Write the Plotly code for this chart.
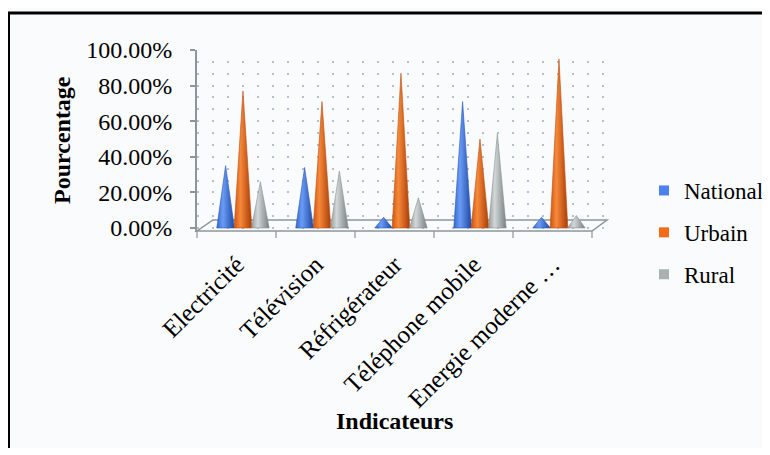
import plotly.graph_objects as go

categories = ["Electricité", "Télévision", "Réfrigérateur", "Téléphone mobile", "Energie moderne …"]
series_names = ["National", "Urbain", "Rural"]
national = [35, 34, 6, 71, 6]
urbain = [77, 71, 87, 50, 95]
rural = [26, 32, 17, 53, 7]
y_tick_values = [0, 20, 40, 60, 80, 100]
y_tick_labels = ["0.00%", "20.00%", "40.00%", "60.00%", "80.00%", "100.00%"]

values = [national, urbain, rural]

legend_colors = ["#4a80f0", "#f06a1a", "#a9b0b0"]
gradients = [
    [[0, "#3566cc"], [0.35, "#6a9cf6"], [1, "#1d47a3"]],
    [[0, "#cc5512"], [0.35, "#f7893a"], [1, "#a83c06"]],
    [[0, "#959b9b"], [0.35, "#d3d7d7"], [1, "#778080"]],
]
edge_colors = ["#2a58b8", "#c04c0c", "#8a9292"]

OFF = 8  # page body margin
W, H = 770 - OFF, 440
L, R, T, B = 197, 607, 50, 232  # plot area in reference pixels
def px(x):
    return (x - L) / (R - L)
def py(y):
    return (B - y) / (B - T)

FONT = "Liberation Serif"

fig = go.Figure()

offsets = [-0.22, 0.0, 0.22]
hw = 0.112
for s, (name, vals) in enumerate(zip(series_names, values)):
    for i, v in enumerate(vals):
        c = i + offsets[s]
        fig.add_trace(go.Scatter(
            x=[c - hw, c, c + hw, c - hw],
            y=[0, v, 0, 0],
            mode="lines",
            fill="toself",
            fillgradient=dict(type="horizontal", colorscale=gradients[s]),
            line=dict(width=0.6, color=edge_colors[s]),
            showlegend=False,
            hoverinfo="skip",
            legendgroup=name,
        ))

for s, name in enumerate(series_names):
    fig.add_trace(go.Scatter(
        x=[None], y=[None], mode="markers", name=name,
        marker=dict(symbol="square", size=10, color=legend_colors[s]),
        legendgroup=name,
    ))

x_lo = -0.582
x_hi = x_lo + (R - L) / 79.0
y_lo = -(B - 228) / 1.78

shapes = []
# border
shapes.append(dict(type="rect", xref="paper", yref="paper",
                   x0=px(8.5), x1=px(800), y0=py(500), y1=py(13),
                   line=dict(color="black", width=3), fillcolor="rgba(0,0,0,0)", layer="below"))
# floor
shapes.append(dict(type="path", xref="paper", yref="paper",
                   path=f"M {px(197)},{py(231)} L {px(592)},{py(231)} L {px(607)},{py(220)} L {px(213)},{py(220)} Z",
                   line=dict(color="#8c9696", width=1.5), fillcolor="rgba(250,251,252,1)", layer="below"))
# front edge ticks
for k in range(6):
    xp = 197 + k * (592 - 197) / 5
    shapes.append(dict(type="line", xref="paper", yref="paper",
                       x0=px(xp), x1=px(xp), y0=py(231), y1=py(238),
                       line=dict(color="#8c9696", width=1.2)))

fig.update_layout(
    width=W, height=H,
    margin=dict(l=L - OFF, r=W - (R - OFF), t=T - OFF, b=H - (B - OFF), pad=0, autoexpand=False),
    paper_bgcolor="#fafbfc",
    plot_bgcolor="rgba(255,255,255,0)",
    font=dict(family=FONT, color="black", size=24),
    showlegend=True,
    legend=dict(x=px(644), y=py(169), xanchor="left", yanchor="top",
                font=dict(family=FONT, size=23), bgcolor="rgba(0,0,0,0)",
                tracegroupgap=9, itemwidth=30),
    xaxis=dict(range=[x_lo, x_hi], showgrid=False, zeroline=False, showline=False,
               tickmode="array", tickvals=[i - 0.08 for i in range(len(categories))],
               ticktext=categories, tickangle=-45, ticks="", automargin=False,
               tickfont=dict(family=FONT, size=25), ticklabelstandoff=12),
    yaxis=dict(range=[y_lo, 100], zeroline=False, showline=True, linecolor="#8c9696", linewidth=2,
               ticks="outside", ticklen=5, tickcolor="#8c9696", tickwidth=1.5, automargin=False,
               tickmode="array", tickvals=y_tick_values, ticktext=y_tick_labels,
               tickfont=dict(family=FONT, size=24), ticklabelstandoff=13,
               showgrid=True, gridcolor="#b3bfd4", griddash="2px,13px", gridwidth=2,
               minor=dict(dtick=20 / 3, tick0=0, showgrid=True, gridcolor="#b3bfd4",
                          griddash="2px,13px", gridwidth=2)),
    shapes=shapes,
    annotations=[
        dict(text="<b>Pourcentage</b>", xref="paper", yref="paper", x=px(62), y=py(140),
             xanchor="center", yanchor="middle",
             showarrow=False, textangle=-90, font=dict(family=FONT, size=24)),
        dict(text="<b>Indicateurs</b>", xref="paper", yref="paper", x=px(394), y=py(421),
             xanchor="center", yanchor="middle",
             showarrow=False, font=dict(family=FONT, size=24)),
    ],
)

fig.write_html("out.html")
